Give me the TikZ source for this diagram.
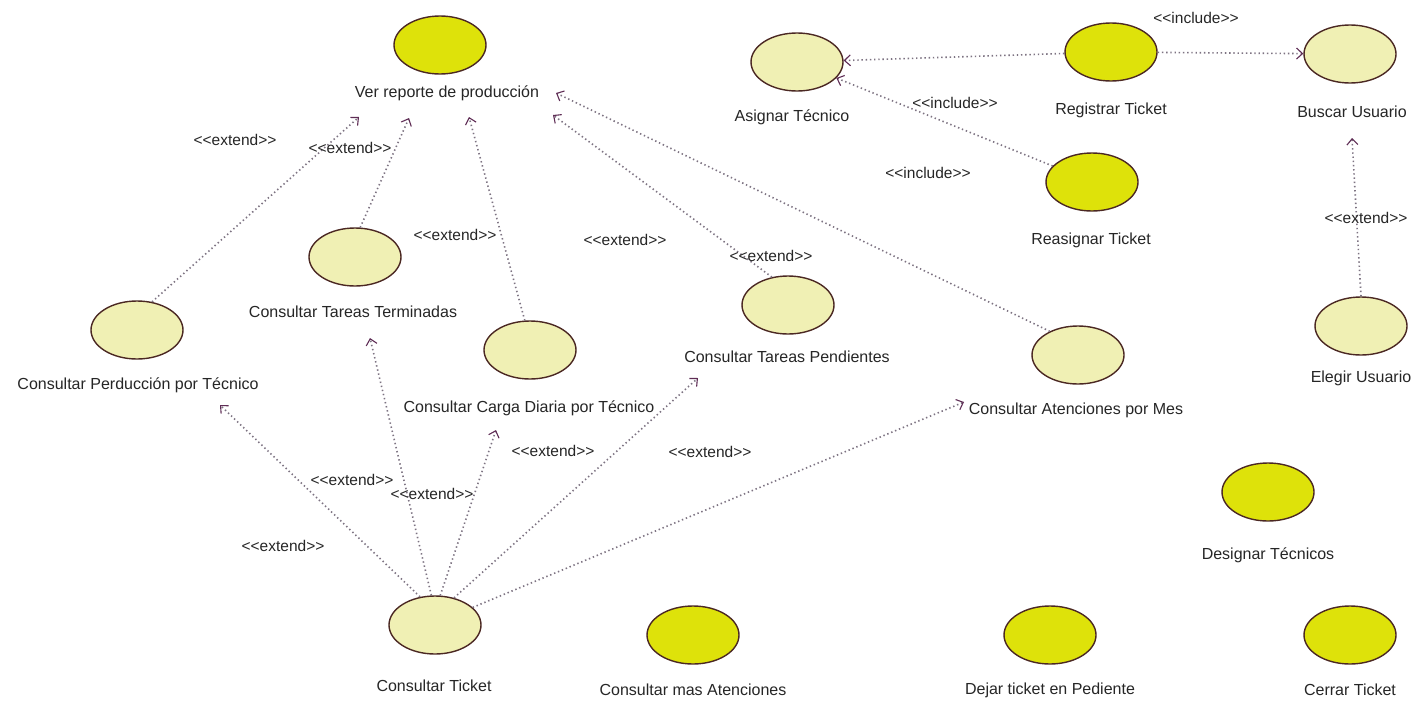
\documentclass[tikz,border=0pt]{standalone}
\usepackage{fontspec}
\setmainfont{Liberation Sans}
\usetikzlibrary{arrows.meta,shapes.geometric}
\definecolor{bright}{RGB}{222,226,10}
\definecolor{pale}{RGB}{240,240,180}
\definecolor{rim}{RGB}{75,40,35}
\definecolor{conn}{RGB}{125,115,130}
\definecolor{tipc}{RGB}{95,45,85}
\newcommand\ltlt{<\kern0pt<}
\newcommand\gtgt{>\kern0pt>}
\newcommand\ext{\ltlt extend\gtgt}
\newcommand\inc{\ltlt include\gtgt}
\begin{document}
\begin{tikzpicture}[x=1pt,y=-1pt,
  uc/.style={ellipse, draw=rim, line width=1.4pt, minimum width=92pt, minimum height=58pt, inner sep=0pt},
  ucb/.style={uc, fill=bright},
  ucp/.style={uc, fill=pale},
  lbl/.style={font=\fontsize{16}{18}\selectfont, inner sep=0pt, text=black!85},
  stereo/.style={font=\fontsize{15.5}{17}\selectfont, inner sep=0pt, text=black!85},
  dep/.style={draw=conn, line width=1.6pt, dash pattern=on 1.4pt off 2.8pt,
    -{Straight Barb[length=6pt,width=11pt,line width=1.1pt,color=tipc]}}
]
\useasboundingbox[fill=white] (0,0) rectangle (1427,707);

% use cases
\node[ucb] (ver) at (440,45) {};
\node[lbl] (verT) at (447,93) {Ver reporte de producción};
\node[ucp] (asig) at (797,62) {};
\node[lbl] (asigT) at (792,117) {Asignar Técnico};
\node[ucb] (reg) at (1111,52) {};
\node[lbl] (regT) at (1111,110) {Registrar Ticket};
\node[ucp] (busc) at (1350,54) {};
\node[lbl] (buscT) at (1352,112) {Buscar Usuario};
\node[ucb] (reas) at (1092,182) {};
\node[lbl] (reasT) at (1091,240) {Reasignar Ticket};
\node[ucp] (eleg) at (1361,326) {};
\node[lbl] (elegT) at (1361,378) {Elegir Usuario};
\node[ucp] (term) at (355,257) {};
\node[lbl] (termT) at (353,312) {Consultar Tareas Terminadas};
\node[ucp] (perd) at (137,330) {};
\node[lbl] (perdT) at (138,385) {Consultar Perducción por Técnico};
\node[ucp] (carga) at (530,350) {};
\node[lbl] (cargaT) at (529,408) {Consultar Carga Diaria por Técnico};
\node[ucp] (pend) at (788,305) {};
\node[lbl] (pendT) at (787,357) {Consultar Tareas Pendientes};
\node[ucp] (aten) at (1078,355) {};
\node[lbl] (atenT) at (1076,410) {Consultar Atenciones por Mes};
\node[ucb] (desig) at (1268,492) {};
\node[lbl] (desigT) at (1268,555) {Designar Técnicos};
\node[ucp] (tick) at (435,625) {};
\node[lbl] (tickT) at (434,686) {Consultar Ticket};
\node[ucb] (mas) at (693,635) {};
\node[lbl] (masT) at (693,690) {Consultar mas Atenciones};
\node[ucb] (dej) at (1050,635) {};
\node[lbl] (dejT) at (1050,690) {Dejar ticket en Pediente};
\node[ucb] (cerr) at (1350,635) {};
\node[lbl] (cerrT) at (1350,690) {Cerrar Ticket};

% free arrow ends
\coordinate (v1) at (359,117);
\coordinate (v2) at (409,118);
\coordinate (v3) at (469,117);
\coordinate (v4) at (553,115);
\coordinate (v5) at (556,93);
\coordinate (b1) at (1352,138);
\coordinate (t1) at (220,405);
\coordinate (t2) at (370,338);
\coordinate (t3) at (496,430);
\coordinate (t4) at (698,378);
\coordinate (t5) at (964,402);

% include
\draw[dep] (reg) -- (asig);
\draw[dep] (reg) -- (busc);
\draw[dep] (reas) -- (asig);
% extend to Ver reporte
\draw[dep] (perd.62) -- (v1);
\draw[dep] (term.80) -- (v2);
\draw[dep] (carga.100) -- (v3);
\draw[dep] (pend.120) -- (v4);
\draw[dep] (aten.140) -- (v5);
\draw[dep] (eleg.north) -- (b1);
% extend from Consultar Ticket
\draw[dep] (tick.118) -- (t1);
\draw[dep] (tick.97) -- (t2);
\draw[dep] (tick.80) -- (t3);
\draw[dep] (tick.55) -- (t4);
\draw[dep] (tick.25) -- (t5);

% stereotypes
\node[stereo] (s1) at (235,140) {\ext};
\node[stereo] (s2) at (350,148) {\ext};
\node[stereo] (s3) at (455,235) {\ext};
\node[stereo] (s4) at (625,240) {\ext};
\node[stereo] (s5) at (771,256) {\ext};
\node[stereo] (s6) at (1366,218) {\ext};
\node[stereo] (s7) at (283,546) {\ext};
\node[stereo] (s8) at (352,480) {\ext};
\node[stereo] (s9) at (432,494) {\ext};
\node[stereo] (s10) at (553,451) {\ext};
\node[stereo] (s11) at (710,452) {\ext};
\node[stereo] (i1) at (1196,18) {\inc};
\node[stereo] (i2) at (955,103) {\inc};
\node[stereo] (i3) at (928,173) {\inc};
\end{tikzpicture}
\end{document}
